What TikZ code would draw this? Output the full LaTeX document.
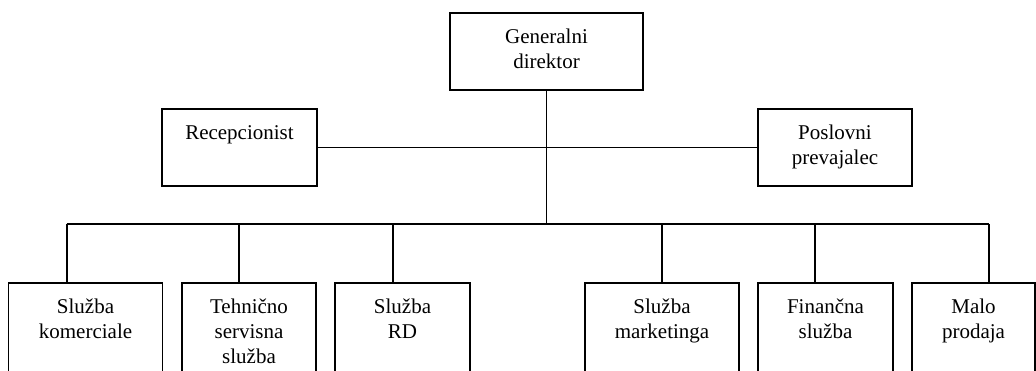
\documentclass[tikz,border=0pt]{standalone}
\usepackage{fontspec}
\setmainfont{Liberation Serif}
\newcommand\boxtxt[3]{\parbox[t][#2][t]{#1}{\centering\fontsize{21}{25}\selectfont\vspace*{13pt}\rule{0pt}{18pt}#3}}
\tikzset{
  orgbox/.style={draw, line width=1.8pt, inner sep=0pt, outer sep=0pt, anchor=north west},
  link/.style={line width=1.8pt}
}
\begin{document}
\begin{tikzpicture}[x=1pt,y=-1pt]
\fill[white] (0,0) rectangle (1036,371);
\path[use as bounding box] (0,0) rectangle (1036,371);
\clip (0,0) rectangle (1036,371);
% top level
\node[orgbox] (gd) at (450,13) {\boxtxt{193pt}{77pt}{Generalni\\direktor}};
\node[orgbox] (rec) at (162,109) {\boxtxt{155pt}{77pt}{Recepcionist}};
\node[orgbox] (pos) at (758,109) {\boxtxt{154pt}{77pt}{Poslovni\\prevajalec}};
% bottom level
\node[orgbox] (b1) at (8.5,283) {\boxtxt{154pt}{110pt}{Služba\\komerciale}};
\node[orgbox] (b2) at (182,283) {\boxtxt{134pt}{110pt}{Tehnično\\servisna\\služba}};
\node[orgbox] (b3) at (335,283) {\boxtxt{135pt}{110pt}{Služba\\RD}};
\node[orgbox] (b4) at (585,283) {\boxtxt{154pt}{110pt}{Služba\\marketinga}};
\node[orgbox] (b5) at (758,283) {\boxtxt{135pt}{110pt}{Finančna\\služba}};
\node[orgbox] (b6) at (912,283) {\boxtxt{123pt}{110pt}{Malo\\prodaja}};
% connectors
\coordinate (j) at (546.5,224);
\coordinate (d1) at (66.7,224);
\coordinate (d2) at (239.3,224);
\coordinate (d3) at (393.3,224);
\coordinate (d4) at (661.7,224);
\coordinate (d5) at (815.3,224);
\coordinate (d6) at (988.7,224);
\draw[link] (gd.south) -- (gd.south |- j);
\draw[link] (rec.east) -- (pos.west);
\draw[link] (d1) -- (d6);
\foreach \i in {1,...,6}{\draw[link] (d\i) -- (d\i |- b\i.north);}
\end{tikzpicture}
\end{document}
